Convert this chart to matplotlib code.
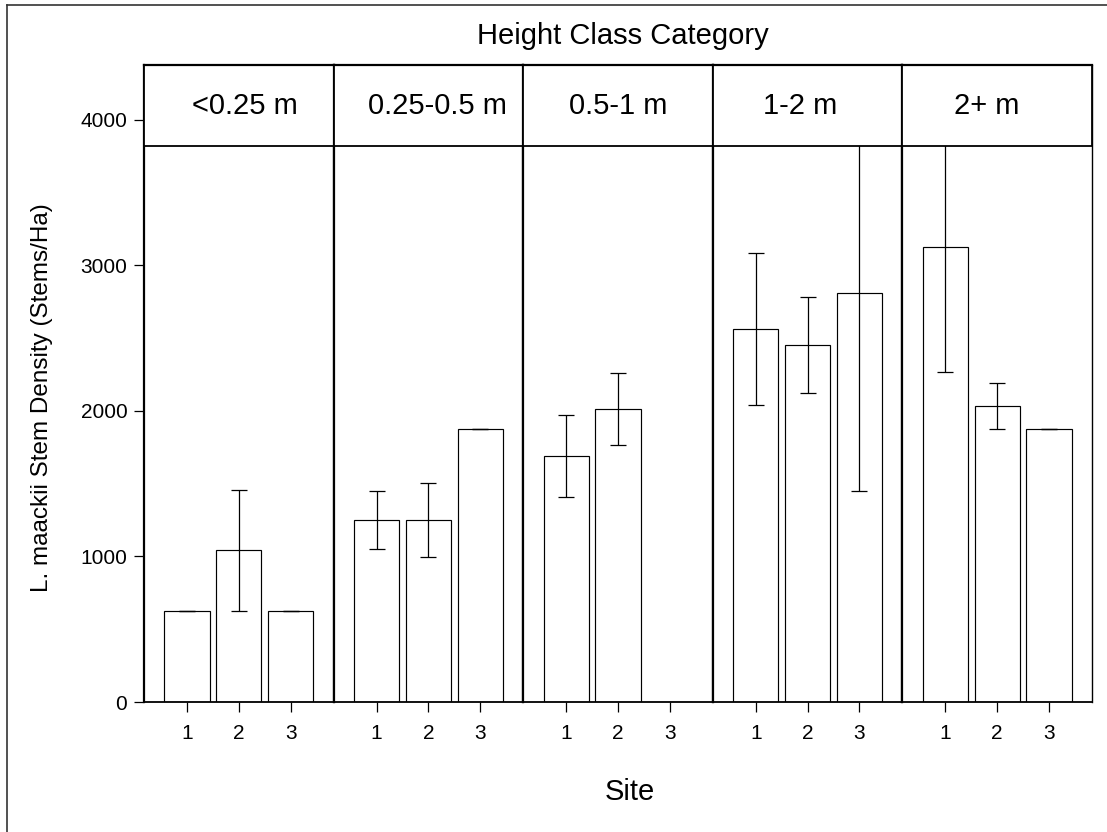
"""Stem density of L. maackii by height class and site, faceted bar chart."""
import numpy as np
import matplotlib
matplotlib.use("Agg")
import matplotlib.pyplot as plt
from matplotlib.lines import Line2D
from matplotlib.patches import Rectangle

HEIGHT_CLASSES = ["<0.25 m", "0.25-0.5 m", "0.5-1 m", "1-2 m", "2+ m"]
SITES = [1, 2, 3]

# mean stems/ha per site, one list per height class
MEAN_LT025 = [625, 1042, 625]
MEAN_025_05 = [1250, 1250, 1875]
MEAN_05_1 = [1688, 2013, 0]
MEAN_1_2 = [2563, 2452, 2809]
MEAN_2PLUS = [3125, 2030, 1875]

# standard errors (nan = no plot with stems)
SE_LT025 = [0, 417, 0]
SE_025_05 = [198, 256, 0]
SE_05_1 = [281, 250, np.nan]
SE_1_2 = [523, 330, 1358]
SE_2PLUS = [861, 158, 0]

MEANS = [MEAN_LT025, MEAN_025_05, MEAN_05_1, MEAN_1_2, MEAN_2PLUS]
SES = [SE_LT025, SE_025_05, SE_05_1, SE_1_2, SE_2PLUS]
Y_TICKS = [0, 1000, 2000, 3000, 4000]

# hand-placed nudges of the strip labels (pixels)
STRIP_NUDGE = [6, 9, 0, -7, -11]

plt.rcParams["font.family"] = ["Liberation Sans", "DejaVu Sans"]

W, H = 1107, 832
fig = plt.figure(figsize=(W / 100, H / 100), dpi=100)

# panel geometry in pixels
LEFT, RIGHT = 144, 1092
TOP, STRIP_BOTTOM, ZERO = 65, 146, 702
PX_PER_UNIT = 145.6 / 1000          # pixels per stem/ha
YMAX = (ZERO - TOP) / PX_PER_UNIT
strip_frac = (ZERO - STRIP_BOTTOM) / (ZERO - TOP)
pw = (RIGHT - LEFT) / len(HEIGHT_CLASSES)

for i, (label, means, ses) in enumerate(zip(HEIGHT_CLASSES, MEANS, SES)):
    ax = fig.add_axes([(LEFT + i * pw) / W, (H - ZERO) / H, pw / W, (ZERO - TOP) / H])
    x = np.array(SITES, dtype=float)
    ax.bar(x, means, width=0.87, color="white", edgecolor="black",
           linewidth=0.85, zorder=2)
    ax.errorbar(x, means, yerr=ses, fmt="none", ecolor="black",
                elinewidth=0.9, capsize=6, capthick=0.9, zorder=2.5)
    ax.set_xlim(0.17, 3.83)
    ax.set_ylim(0, YMAX)
    ax.set_xticks(SITES)
    ax.set_xticklabels([str(s) for s in SITES])
    ax.tick_params(axis="x", length=7, width=0.9, pad=9, labelsize=15)

    # strip header covering the top of the panel
    ax.add_patch(Rectangle((0, strip_frac), 1, 1 - strip_frac,
                           transform=ax.transAxes, facecolor="white",
                           edgecolor="black", linewidth=1.3, zorder=5,
                           clip_on=False))
    ax.text(0.5 + STRIP_NUDGE[i] / pw, (1 + strip_frac) / 2, label,
            transform=ax.transAxes, ha="center", va="center",
            fontsize=21, zorder=6)

    for side in ["left", "right"]:
        ax.spines[side].set_linewidth(1.6)
    ax.spines["bottom"].set_linewidth(1.3)
    ax.spines["top"].set_linewidth(1.6)
    ax.spines["top"].set_zorder(7)
    if i == 0:
        ax.set_yticks(Y_TICKS)
        ax.tick_params(axis="y", length=7, width=0.9, pad=5, labelsize=15)
    else:
        ax.set_yticks([])
    if i == len(HEIGHT_CLASSES) - 1:
        ax.spines["right"].set_linewidth(1.0)

fig.text(623 / W, 1 - 36 / H, "Height Class Category",
         ha="center", va="center", fontsize=21)
fig.text(630 / W, 1 - 792 / H, "Site", ha="center", va="center", fontsize=21)
fig.text(42 / W, 1 - 398 / H, "L. maackii Stem Density (Stems/Ha)",
         ha="center", va="center", rotation=90, fontsize=17.5)

# outer frame (left and top edges)
fig.add_artist(Line2D([7 / W, 7 / W], [0, 1 - 5 / H], color="#333333", lw=1.2))
fig.add_artist(Line2D([7 / W, 1], [1 - 5 / H, 1 - 5 / H], color="#333333", lw=1.2))

fig.savefig("out.png", dpi=100)
